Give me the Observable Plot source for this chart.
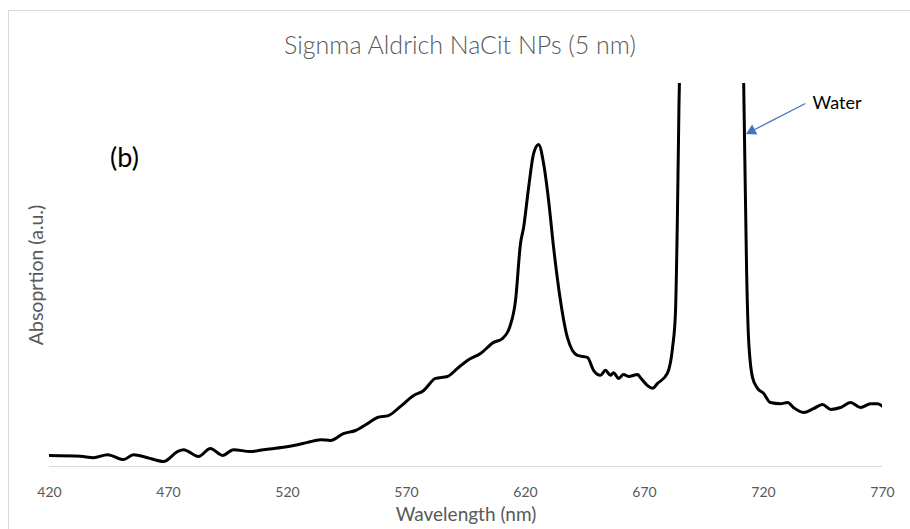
<!DOCTYPE html>
<html>
<head>
<meta charset="utf-8">
<script src="https://cdn.jsdelivr.net/npm/d3@7"></script>
<script src="https://cdn.jsdelivr.net/npm/@observablehq/plot@0.6"></script>
<style>
  body { margin: 0; background: #fff; }
  #wrap { position: relative; width: 910px; height: 529px; overflow: hidden; font-family: Lato, "Open Sans", sans-serif; }
  #frame { position: absolute; left: 8px; top: 10px; width: 920px; height: 540px; border: 1px solid #d9d9d9; box-sizing: border-box; }
  #title { position: absolute; left: 0; width: 920px; top: 29px; text-align: center; font-size: 25px; color: #595959; font-weight: 300; }
  #chart { position: absolute; left: 0; top: 0; }
</style>
</head>
<body>
<div id="wrap">
  <div id="frame"></div>
  <div id="chart"></div>
  <div id="title">Signma Aldrich NaCit NPs (5 nm)</div>
</div>
<script>
// Spectrum (wavelength in nm, absorption in arbitrary units)
const wavelength = [420, 433, 438.5, 444.4, 451.1, 455.3, 461.2, 467.9, 473.8, 476.3, 482.6, 487.6, 492.7, 497.3, 504.5, 509.9, 518.3, 524.2, 528.4, 533.9, 538.1, 543.5, 548.6, 553.6, 557.8, 562.4, 567.5, 572.9, 577.1, 582.2, 587.2, 591.4, 595.6, 601.1, 606.6, 610.3, 613.3, 615.8, 617.9, 619.2, 621.3, 623.4, 625.5, 627.6, 629.7, 631.8, 634.7, 637.6, 641.8, 646.0, 648.6, 651.5, 653.6, 655.7, 657.0, 659.1, 661.2, 663.3, 667.1, 668.3, 671.3, 673.4, 675.5, 679.6, 681.8, 683.0, 683.8, 684.5, 686, 697, 710.5, 711.8, 712.9, 713.7, 715.4, 717.5, 720.0, 722.9, 727.1, 730.1, 732.6, 736.8, 741.0, 744.8, 748.2, 752.4, 756.6, 760.8, 765.0, 767.9, 770];
const absorption = [0.029, 0.027, 0.023, 0.031, 0.018, 0.031, 0.023, 0.013, 0.039, 0.044, 0.026, 0.047, 0.029, 0.044, 0.039, 0.044, 0.050, 0.057, 0.063, 0.070, 0.068, 0.086, 0.094, 0.112, 0.128, 0.133, 0.157, 0.185, 0.198, 0.230, 0.235, 0.256, 0.277, 0.295, 0.324, 0.334, 0.363, 0.433, 0.582, 0.624, 0.728, 0.817, 0.841, 0.791, 0.695, 0.572, 0.433, 0.337, 0.290, 0.285, 0.251, 0.238, 0.251, 0.238, 0.245, 0.230, 0.240, 0.235, 0.240, 0.232, 0.211, 0.204, 0.217, 0.243, 0.311, 0.400, 0.642, 0.95, 1.4, 2.6, 1.4, 0.95, 0.512, 0.337, 0.232, 0.204, 0.191, 0.167, 0.164, 0.167, 0.154, 0.141, 0.151, 0.162, 0.149, 0.154, 0.167, 0.154, 0.164, 0.164, 0.157];
const xTicks = [420, 470, 520, 570, 620, 670, 720, 770];

// Annotations (data coordinates)
const panelLabel = [{x: 451.5, y: 0.804, text: "(b)"}];
const waterLabel = [{x: 740.6, y: 0.948, text: "Water"}];
const waterArrow = [{x1: 737.6, y1: 0.948, x2: 715.1, y2: 0.876}];
const waterHead = [{x: 715.1, y: 0.876}];

const data = wavelength.map((w, i) => ({w, a: absorption[i]}));

const gray = "#595959";
const plot = Plot.plot({
  width: 910,
  height: 529,
  marginLeft: 49,
  marginRight: 28,
  marginTop: 83,
  marginBottom: 63,
  style: {fontFamily: "Lato, 'Open Sans', sans-serif", background: "transparent"},
  x: {domain: [420, 770]},
  y: {domain: [0, 1], axis: null},
  marks: [
    Plot.ruleY([0], {stroke: "#d9d9d9", strokeWidth: 1}),
    Plot.axisX({ticks: xTicks, tickSize: 0, tickPadding: 21, label: null, fill: gray, fontSize: 14, tickFormat: d => String(d)}),
    Plot.line(data, {x: "w", y: "a", stroke: "#000", strokeWidth: 3, clip: true, strokeLinejoin: "round", curve: "monotone-x"}),
    Plot.text(["Wavelength (nm)"], {frameAnchor: "bottom", dy: 48, lineAnchor: "middle", textAnchor: "middle", fill: gray, fontSize: 19}),
    Plot.text(["Absoprtion (a.u.)"], {frameAnchor: "left", dx: -13, rotate: -90, textAnchor: "middle", lineAnchor: "middle", fill: gray, fontSize: 19.5}),
    Plot.text(panelLabel, {x: "x", y: "y", text: "text", fontSize: 27, fill: "#000"}),
    Plot.text(waterLabel, {x: "x", y: "y", text: "text", textAnchor: "start", fontSize: 18, fill: "#000"}),
    Plot.link(waterArrow, {x1: "x1", y1: "y1", x2: "x2", y2: "y2", stroke: "#4472C4", strokeWidth: 1.2}),
    Plot.dot(waterHead, {x: "x", y: "y", symbol: "triangle", r: 4.2, fill: "#4472C4", stroke: "none", rotate: 243})
  ]
});
document.getElementById("chart").appendChild(plot);
</script>
</body>
</html>
